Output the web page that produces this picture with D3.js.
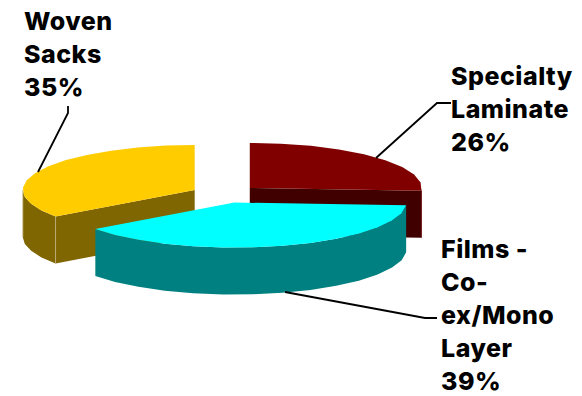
<!DOCTYPE html>
<html><head><meta charset="utf-8">
<style>html,body{margin:0;background:#fff}svg{display:block}text{font-family:Inter,sans-serif;font-weight:800;fill:#000;letter-spacing:.5px}</style>
<script src="https://cdnjs.cloudflare.com/ajax/libs/d3/7.8.5/d3.min.js"></script>
</head><body><div id="c"></div>
<script>
const categories=["Specialty Laminate","Films - Co-ex/Mono Layer","Woven Sacks"];
const values=[26,39,35];
const topColors=["#800000","#00FFFF","#FFCC00"];
const sideColors=["#400000","#008080","#806600"];
const labelLines=[["Specialty","Laminate","26%"],["Films -","Co-","ex/Mono","Layer","39%"],["Woven","Sacks","35%"]];
const labelPos=[[451,85],[441,258],[24,30]];
const leaders=[[[451,103],[437,103],[376,158]],[[437,318],[425,318],[285,292]],[[68,106],[68,113],[38,172]]];

const W=582,H=396,rx=172,ry=45,depth=47,explode=34,cx=225,cy=194;
const svg=d3.select("#c").append("svg").attr("width",W).attr("height",H);
const pie=d3.pie().sort(null).value(d=>d)(values);
const line=d3.line();
function arcPts(c,a0,a1){
  const n=Math.max(1,Math.round((a1-a0)/(Math.PI/18)));
  return d3.range(n+1).map(i=>{const a=a0+(a1-a0)*i/n;return [c[0]+rx*Math.sin(a),c[1]-ry*Math.cos(a)];});
}
const order=[2,0,1];
order.forEach(i=>{
  const s=pie[i],m=(s.startAngle+s.endAngle)/2;
  const c=[cx+explode*Math.sin(m),cy-explode*ry/rx*Math.cos(m)];
  const g=svg.append("g");
  const side=sideColors[i],top=topColors[i];
  const wall=(pts)=>g.append("path").attr("d",line(pts.concat(pts.slice().reverse().map(p=>[p[0],p[1]+depth])))+"Z").attr("fill",side);
  const e0=arcPts(c,s.startAngle,s.startAngle)[0],e1=arcPts(c,s.endAngle,s.endAngle)[0];
  if(i===2) wall([e0,c]);
  if(i===0) wall([c,e1]);
  const a0=Math.max(s.startAngle,Math.PI/2),a1=Math.min(s.endAngle,Math.PI*1.5);
  if(a1>a0) wall(arcPts(c,a0,a1));
  if(i===2){
    g.append("path").attr("d",line([e0,[e0[0],e0[1]+depth]])).attr("stroke","#b8a878").attr("fill","none");
    const l=arcPts(c,a1,a1)[0];
    g.append("path").attr("d",line([l,[l[0],l[1]+depth]])).attr("stroke","#d8cda8").attr("fill","none");
  }
  if(i===0){
    g.append("path").attr("d",line([e1,[e1[0],e1[1]+depth]])).attr("stroke","#7a2020").attr("fill","none");
  }
  g.append("path").attr("d",line([c].concat(arcPts(c,s.startAngle,s.endAngle)))+"Z").attr("fill",top);
});
leaders.forEach(p=>svg.append("path").attr("d",line(p)).attr("fill","none").attr("stroke","#000").attr("stroke-width",1.8));
labelLines.forEach((ls,i)=>{
  const t=svg.append("text").attr("font-size",25);
  ls.forEach((l,j)=>t.append("tspan").attr("x",labelPos[i][0]).attr("y",labelPos[i][1]+j*33).text(l));
});
</script></body></html>
